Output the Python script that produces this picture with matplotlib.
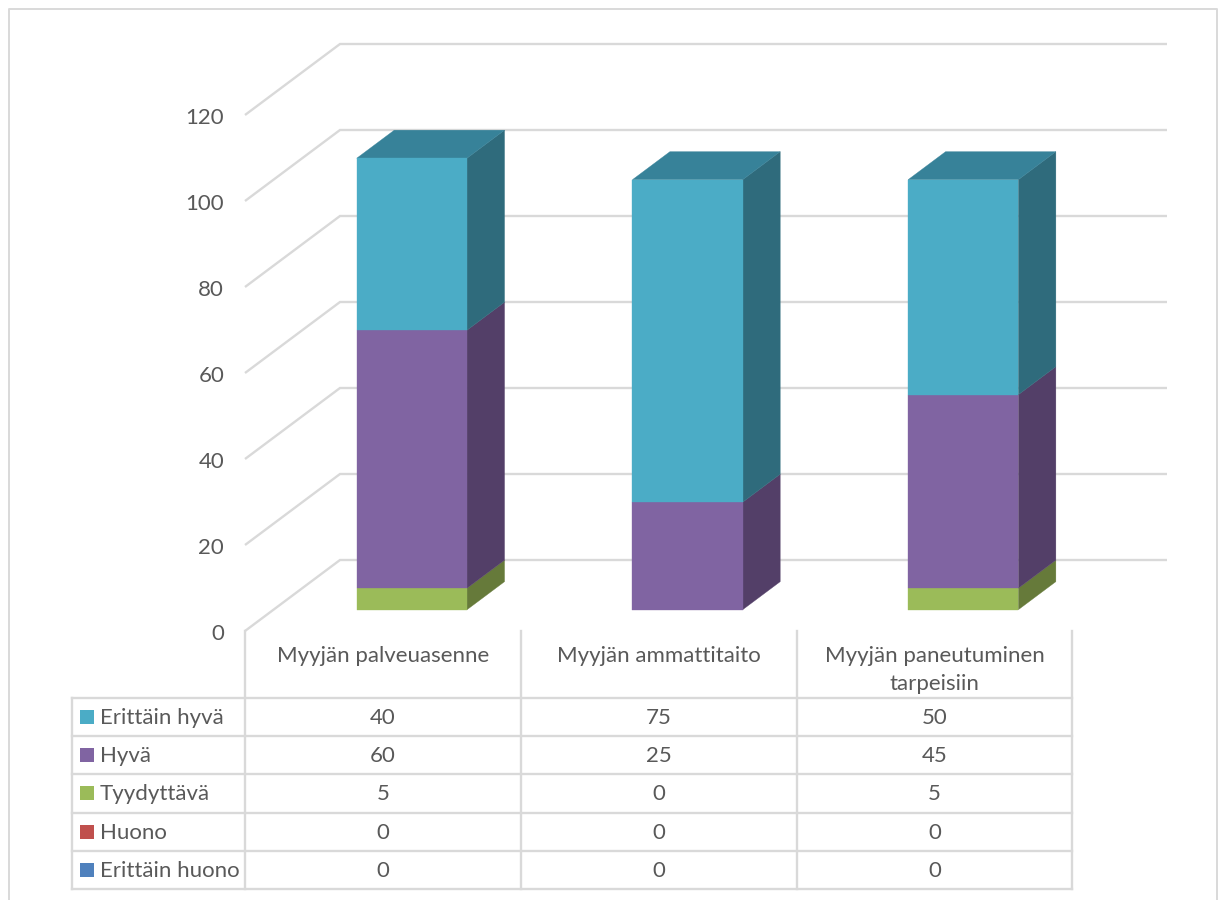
import matplotlib
matplotlib.use("Agg")
import matplotlib.pyplot as plt
from matplotlib.patches import Polygon, Rectangle
from matplotlib.lines import Line2D
from matplotlib.transforms import Affine2D, ScaledTranslation

categories = ["Myyjän palveuasenne", "Myyjän ammattitaito", "Myyjän paneutuminen\ntarpeisiin"]
series_names = ["Erittäin huono", "Huono", "Tyydyttävä", "Hyvä", "Erittäin hyvä"]
erittain_huono = [0, 0, 0]
huono = [0, 0, 0]
tyydyttava = [5, 0, 5]
hyva = [60, 25, 45]
erittain_hyva = [40, 75, 50]
y_ticks = [0, 20, 40, 60, 80, 100, 120]

series_values = [erittain_huono, huono, tyydyttava, hyva, erittain_hyva]
front_colors = ["#4F81BD", "#C0504D", "#9BBB59", "#8064A2", "#4BACC6"]
side_colors = ["#2F4D71", "#73302E", "#667A3A", "#533F68", "#2F6B7C"]
top_colors = ["#3B6290", "#903C3A", "#769043", "#604B7A", "#378299"]

W, H = 1224, 900
TEXT = "#595959"
RULE = "#D9D9D9"
FONT = "Lato"
FS = 16

# Oblique projection of the floor: one unit of depth in category / value units
DEPTH_X = 95 / 275.67
DEPTH_Y = 71 / 4.3
BAR_W = 0.4
BAR_SHIFT = 0.002
Z0, Z1 = 0.3, 0.695

fig = plt.figure(figsize=(W / 100, H / 100), dpi=100, facecolor="white")
ax = fig.add_axes([245 / W, (H - 631) / H, 827 / W, 516 / H])
ax.set_xlim(0, 3)
ax.set_ylim(0, 120)
ax.patch.set_visible(False)
for s in ax.spines.values():
    s.set_visible(False)
ax.set_xticks([])
ax.set_yticks(y_ticks)
ax.tick_params(axis="y", length=0, pad=15, labelsize=FS, labelcolor=TEXT)
nudge = ScaledTranslation(0, -1.5 / 100, fig.dpi_scale_trans)
for lab in ax.get_yticklabels():
    lab.set_fontfamily(FONT)
    lab.set_transform(lab.get_transform() + nudge)


def proj(x, v, z):
    return (x + z * DEPTH_X, v + z * DEPTH_Y)


# Floor-to-wall gridlines
for v in y_ticks:
    pts = [proj(0, v, 0), proj(0, v, 1), proj(3, v, 1)]
    ax.plot(*zip(*pts), color=RULE, lw=1.7, clip_on=False, zorder=1,
            solid_joinstyle="miter", solid_capstyle="butt")

# Stacked 3D columns: side and top faces first, then the front
for i in range(len(categories)):
    x0 = i + 0.5 - BAR_W / 2 + BAR_SHIFT
    x1 = i + 0.5 + BAR_W / 2 + BAR_SHIFT
    base = 0
    for vals, fc, sc, tc in zip(series_values, front_colors, side_colors, top_colors):
        v = vals[i]
        if v == 0:
            continue
        top = base + v
        side = [proj(x1, base, Z0), proj(x1, base, Z1), proj(x1, top, Z1), proj(x1, top, Z0)]
        front = [proj(x0, base, Z0), proj(x1, base, Z0), proj(x1, top, Z0), proj(x0, top, Z0)]
        # A hairline edge in the face colour closes the seam between adjoining faces
        ax.add_patch(Polygon(side, fc=sc, ec=sc, lw=0.25, clip_on=False, zorder=3))
        ax.add_patch(Polygon(front, fc=fc, ec=fc, lw=0.25, clip_on=False, zorder=4))
        base = top
    cap_color = next(tc for vals, tc in zip(series_values[::-1], top_colors[::-1]) if vals[i] > 0)
    cap = [proj(x0, base, Z0), proj(x1, base, Z0), proj(x1, base, Z1), proj(x0, base, Z1)]
    ax.add_patch(Polygon(cap, fc=cap_color, ec=cap_color, lw=0.25, clip_on=False, zorder=3))

# Layout elements below use pixel positions measured from the top-left corner
px = Affine2D().scale(1, -1).translate(0, H)


def rule(xs, ys, lw=1.7):
    fig.add_artist(Line2D(xs, ys, color=RULE, lw=lw, transform=px, solid_capstyle="projecting"))


# Outer chart frame, open at the bottom edge
rule([9, 9, 1217, 1217], [H, 9, 9, H], lw=1.4)

# Data table grid
col_x = [245, 521, 797, 1072]
row_y = [697.5, 736, 774, 812.5, 851, 889]
table_left = 72
for y in row_y:
    rule([table_left, col_x[-1]], [y, y])
rule([table_left, table_left], [row_y[0], row_y[-1]])
for x in col_x:
    rule([x, x], [631, row_y[-1]])


def label(x, y, s, ha="center"):
    fig.text(x, y + 1, s, transform=px, ha=ha, va="center", color=TEXT,
             fontsize=FS, family=FONT, linespacing=1.3)


centers = [(col_x[j] + col_x[j + 1]) / 2 for j in range(3)]
for c, cat in zip(centers, categories):
    parts = cat.split("\n")
    for k, part in enumerate(parts):
        label(c, 655 + 28 * k, part)

rows = list(zip(series_names, series_values, front_colors))[::-1]
for r, (name, vals, col) in enumerate(rows):
    yc = (row_y[r] + row_y[r + 1]) / 2
    fig.add_artist(Rectangle((80, yc - 7), 14, 14, transform=px, fc=col, ec="none"))
    label(100, yc, name, ha="left")
    for c, v in zip(centers, vals):
        label(c, yc, str(v))

fig.savefig("out.png", dpi=100, facecolor="white")
